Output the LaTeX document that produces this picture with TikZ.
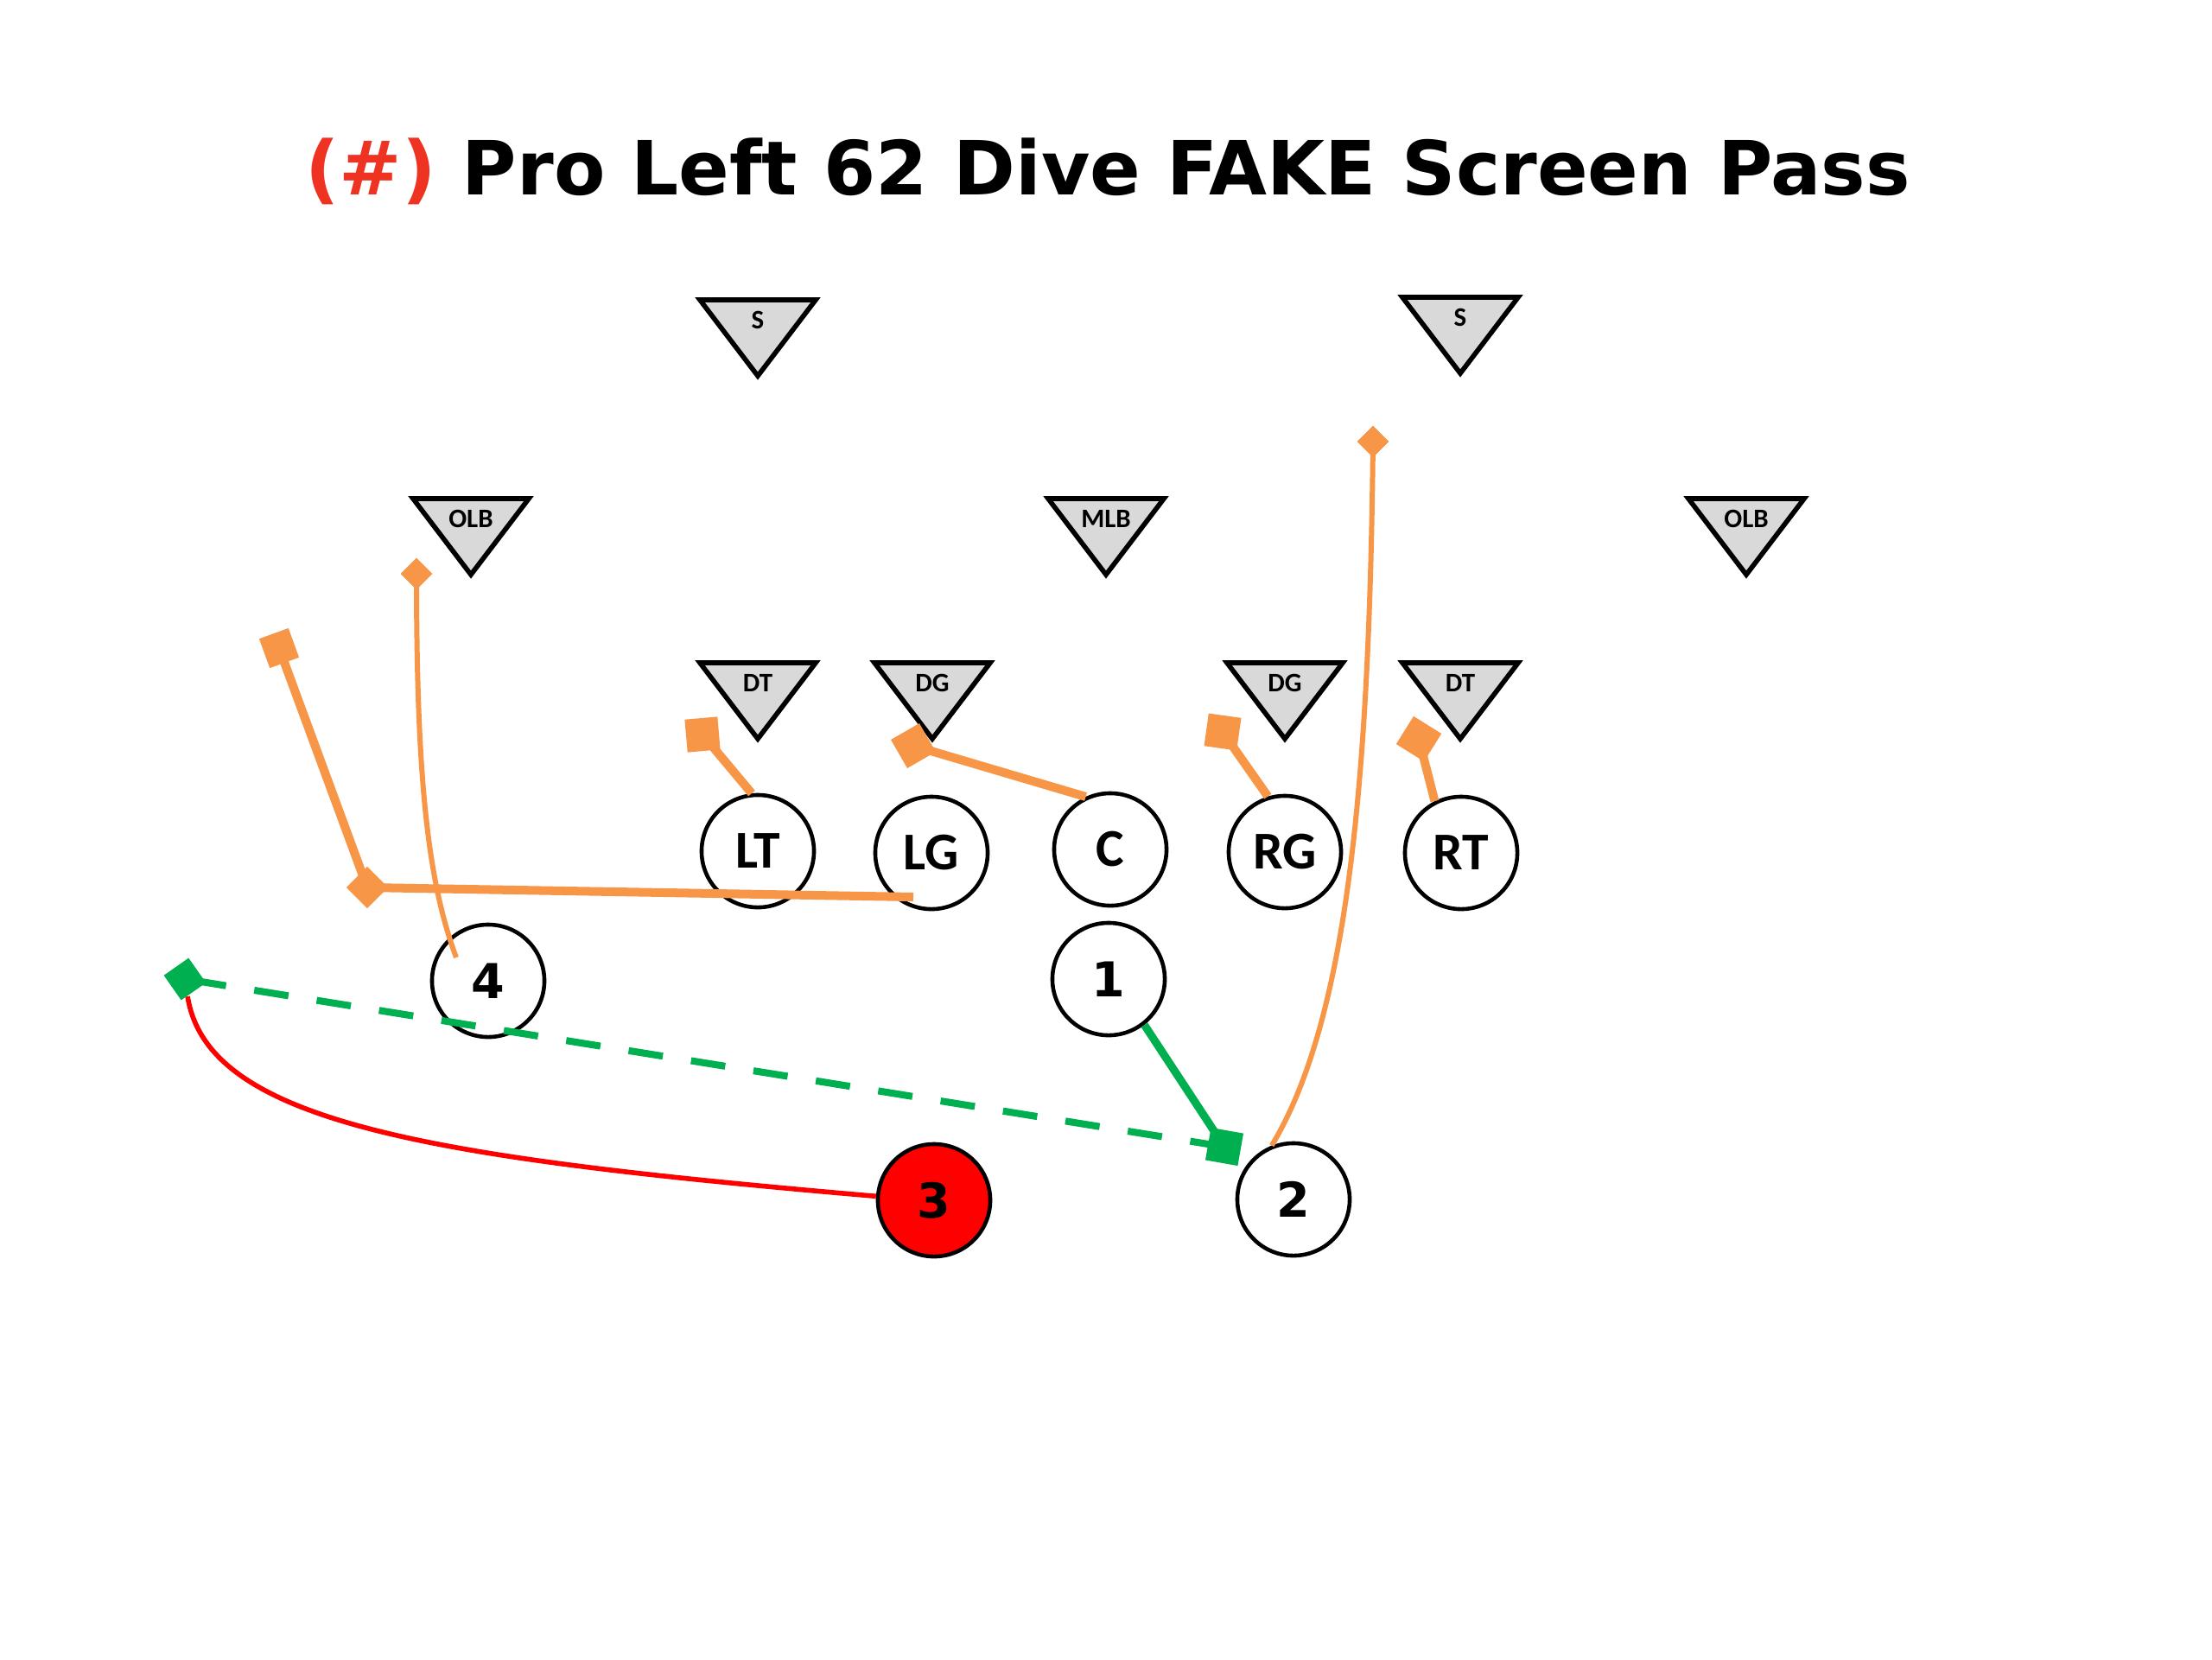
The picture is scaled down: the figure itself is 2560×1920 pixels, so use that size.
\documentclass[tikz,border=0pt]{standalone}
\usepackage{fontspec}
\setmainfont{Carlito}
\newfontfamily\vfont{DejaVu Sans}
\usetikzlibrary{calc}
\pgfdeclarelayer{fg}
\pgfsetlayers{main,fg}
\definecolor{ora}{HTML}{F79646}
\definecolor{grn}{HTML}{00B050}
\definecolor{tgray}{HTML}{D9D9D9}
\definecolor{tred}{HTML}{EE3322}
\newcommand{\deftri}[4]{%
  \draw[tri] (#2-67,#3) -- (#2+67,#3) -- (#2,#3+88) -- cycle;
  \node[trilabel] (#1) at (#2,#3+23) {#4};}
\begin{document}
\begin{tikzpicture}[x=0.01cm,y=-0.01cm,
  tri/.style={draw=black,fill=tgray,line width=1.6pt,line join=miter},
  trilabel/.style={font=\bfseries\fontsize{8.8}{10}\selectfont,inner sep=0pt},
  player/.style={circle,draw=black,fill=white,line width=1.3pt,minimum size=1.30cm,inner sep=0pt,font=\bfseries\fontsize{17.5}{20}\selectfont},
  numb/.style={player,font=\vfont\bfseries\fontsize{15.8}{18}\selectfont},
  osq/.style={fill=ora,minimum size=0.38cm,inner sep=0pt},
  odia/.style={fill=ora,minimum size=0.26cm,inner sep=0pt,rotate=45},
  gsq/.style={fill=grn,minimum size=0.38cm,inner sep=0pt},
  oth/.style={draw=ora,line width=2.85pt},
  otn/.style={draw=ora,line width=1.7pt},
  gth/.style={draw=grn,line width=2.6pt},
  gdash/.style={draw=grn,line width=2.3pt,dash pattern=on 11.4pt off 9.4pt},
  redrt/.style={draw=red,line width=1.6pt}]
\fill[white] (0,0) rectangle (2560,1920);
\useasboundingbox (0,0) rectangle (2560,1920);

% title
\node[font=\vfont\bfseries\fontsize{24.6}{29}\selectfont,anchor=base,inner sep=0pt] (title) at (1282,225)
  {\textcolor{tred}{(\#)} Pro Left 62 Dive FAKE Screen Pass};

% defense
\deftri{S1}{877}{347}{S}
\deftri{S2}{1690}{344}{S}
\deftri{OLB1}{545}{577}{OLB}
\deftri{MLB}{1280}{577}{MLB}
\deftri{OLB2}{2021}{577}{OLB}
\deftri{DT1}{877}{767}{DT}
\deftri{DG1}{1079}{767}{DG}
\deftri{DG2}{1487}{767}{DG}
\deftri{DT2}{1690}{767}{DT}

% offense
\node[player] (LT) at (877,985) {LT};
\node[player] (LG) at (1078,987) {LG};
\node[player] (C) at (1285,983) {C};
\node[player] (RG) at (1487,986) {RG};
\node[player] (RT) at (1691,987) {RT};
\node[numb] (p4) at (565,1135) {4};
\node[numb] (p1) at (1283,1133) {1};
\node[numb] (p2) at (1497,1388) {2};
\node[numb,fill=red] (p3) at (1081,1389) {3};

% markers
\begin{pgfonlayer}{fg}
\node[osq,rotate=5] (m1) at (813,850) {};
\node[osq,rotate=30] (m2) at (1057,863) {};
\node[fill=ora,minimum size=0.34cm,inner sep=0pt,rotate=45] (m3) at (425,1027) {};
\node[osq,minimum size=0.36cm,rotate=20] (m4) at (323,750) {};
\node[odia] (m5) at (482,664) {};
\node[osq,rotate=-8] (m6) at (1415,847) {};
\node[osq,rotate=-32] (m7) at (1642,855) {};
\node[odia] (m8) at (1589,511) {};
\node[gsq,rotate=-10] (g1) at (1417,1327) {};
\node[gsq,minimum size=0.35cm,rotate=35] (g2) at (214,1133) {};
\end{pgfonlayer}

\coordinate (lgs) at ($(LG)+(-21,51)$);
\coordinate (p4s) at ($(p4)+(-37,-27)$);

% routes
\draw[oth] (LT.96) -- (m1.center);
\draw[oth] (C.115) -- (m2.center);
\draw[oth] (lgs) -- (m3.center) -- (m4.center);
\draw[otn] (p4s) .. controls (495,1020) and (482,900) .. (m5.center);
\draw[oth] (RG.107) -- (m6.center);
\draw[oth] (RT.117) -- (m7.center);
\draw[otn] (p2.112) .. controls (1560,1180) and (1585,900) .. (m8.center);
\draw[gth] (p1.-52) -- (g1.center);
\draw[gdash] (g1.center) -- (g2.center);
\draw[redrt] (p3.176) .. controls (500,1340) and (240,1300) .. (g2);
\end{tikzpicture}
\end{document}
